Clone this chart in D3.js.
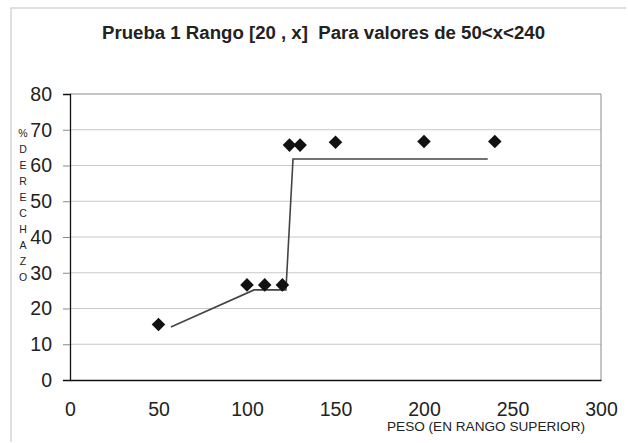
<!DOCTYPE html>
<html>
<head>
<meta charset="utf-8">
<script src="https://cdn.jsdelivr.net/npm/d3@7"></script>
<style>
  html, body { margin: 0; padding: 0; background: #fff; }
  svg { display: block; font-family: "Liberation Sans", Arial, sans-serif; }
  .pre { white-space: pre; }
</style>
</head>
<body>
<svg id="chart" width="628" height="443"></svg>
<script>
// Measured rejection percentage by upper weight of the range
const pesoX = [50, 100, 110, 120, 124, 130, 150, 200, 240];
const rechazoY = [15.5, 26.6, 26.6, 26.6, 65.7, 65.7, 66.5, 66.7, 66.7];

// Fitted step curve
const curvaX = [57, 104, 122, 126, 236];
const curvaY = [14.8, 25.2, 25.2, 61.8, 61.8];

const xTicks = [0, 50, 100, 150, 200, 250, 300];
const yTicks = [0, 10, 20, 30, 40, 50, 60, 70, 80];

const titulo = "Prueba 1 Rango [20 , x]  Para valores de 50<x<240";
const tituloX = "PESO (EN RANGO SUPERIOR)";
const tituloY = "%DERECHAZO";

const svg = d3.select("#chart");
const m = { left: 70, right: 601, top: 94, bottom: 380 };

const x = d3.scaleLinear().domain([0, 300]).range([m.left, m.right]);
const y = d3.scaleLinear().domain([0, 80]).range([m.bottom, m.top]);

// outer chart frame
svg.append("path")
  .attr("d", `M11,442 V8 H626`)
  .attr("fill", "none").attr("stroke", "#d6d6d6").attr("stroke-width", 1.5);

// title
svg.append("text")
  .attr("class", "pre")
  .attr("x", 102).attr("y", 39)
  .attr("font-size", 18).attr("font-weight", "bold")
  .attr("textLength", 443).attr("lengthAdjust", "spacingAndGlyphs")
  .attr("fill", "#222")
  .text(titulo);

// horizontal gridlines
svg.append("g").selectAll("line")
  .data(yTicks.filter(d => d > 0 && d < 80))
  .join("line")
  .attr("x1", m.left).attr("x2", m.right)
  .attr("y1", d => y(d)).attr("y2", d => y(d))
  .attr("stroke", "#c9c9c9").attr("stroke-width", 1);

// plot area frame: top and right in gray
svg.append("path")
  .attr("d", `M${m.left},${m.top} H${m.right} V${m.bottom}`)
  .attr("fill", "none").attr("stroke", "#8a8a8a").attr("stroke-width", 1);

// y axis
const yAxis = d3.axisLeft(y).tickValues(yTicks).tickSize(7).tickPadding(11);
const gy = svg.append("g").attr("transform", `translate(${m.left},0)`).call(yAxis);
gy.select(".domain").attr("stroke", "#111").attr("stroke-width", 1.3);
gy.selectAll(".tick line").attr("stroke", "#888");
gy.selectAll(".tick text")
  .attr("font-size", 19.5).attr("fill", "#222")
  .attr("font-family", "Liberation Sans, Arial, sans-serif");
gy.selectAll(".tick").filter(d => d === 0 || d === 80).select("line").remove();

// x axis
const xAxis = d3.axisBottom(x).tickValues(xTicks).tickSize(0).tickPadding(22);
const gx = svg.append("g").attr("transform", `translate(0,${m.bottom})`).call(xAxis);
gx.select(".domain").attr("stroke", "#111").attr("stroke-width", 1.3);
gx.selectAll(".tick text")
  .attr("font-size", 19.5).attr("fill", "#222")
  .attr("font-family", "Liberation Sans, Arial, sans-serif");

// axis titles
svg.append("text")
  .attr("x", 387).attr("y", 431)
  .attr("font-size", 12.5).attr("fill", "#222")
  .attr("textLength", 198).attr("lengthAdjust", "spacingAndGlyphs")
  .text(tituloX);

svg.append("g").selectAll("text")
  .data(tituloY.split(""))
  .join("text")
  .attr("x", 23).attr("y", (d, i) => 137 + i * 16)
  .attr("text-anchor", "middle")
  .attr("font-size", 10.5).attr("fill", "#222")
  .text(d => d);

// fitted curve
const linea = d3.line().x(d => x(d[0])).y(d => y(d[1]));
svg.append("path")
  .datum(d3.zip(curvaX, curvaY))
  .attr("d", linea)
  .attr("fill", "none").attr("stroke", "#444").attr("stroke-width", 1.6);

// data markers
const diamante = d3.symbol(d3.symbolSquare, 92);
svg.append("g").selectAll("path")
  .data(d3.zip(pesoX, rechazoY))
  .join("path")
  .attr("d", diamante)
  .attr("transform", d => `translate(${x(d[0])},${y(d[1])}) rotate(45)`)
  .attr("fill", "#111");
</script>
</body>
</html>
